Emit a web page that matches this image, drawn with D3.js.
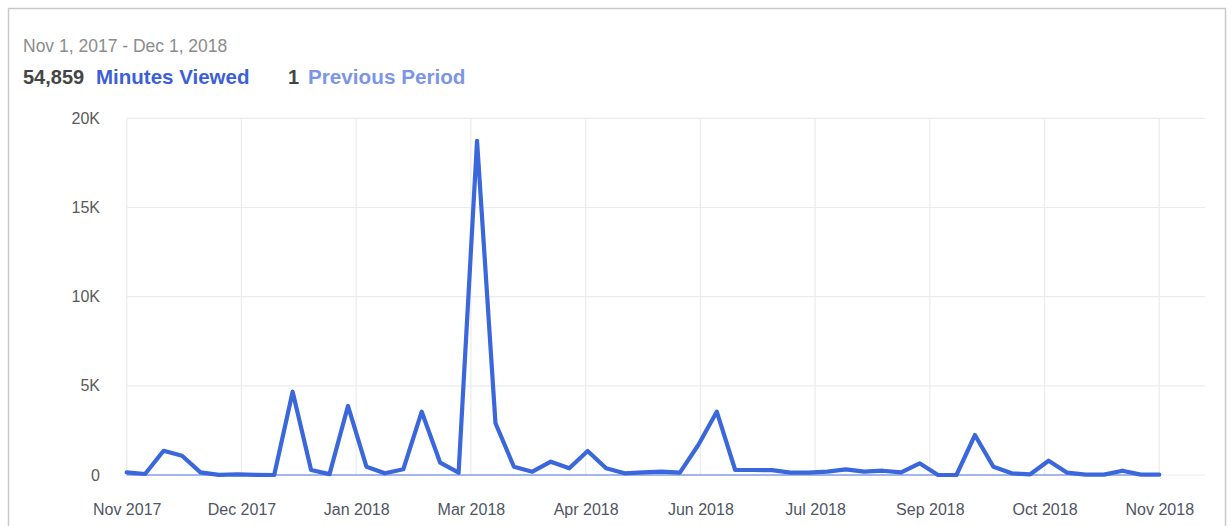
<!DOCTYPE html>
<html>
<head>
<meta charset="utf-8">
<script src="https://cdn.jsdelivr.net/npm/d3@7"></script>
<style>
  html, body { margin: 0; padding: 0; background: #fff; }
  svg { display: block; font-family: "Liberation Sans", Arial, sans-serif; }
</style>
</head>
<body>
<svg id="chart" width="1231" height="526"></svg>
<script>
// Weekly minutes viewed, Nov 1, 2017 - Dec 1, 2018
const minutesViewed = [
  150, 55, 1360, 1080, 150, 10, 30, 10, 0, 4670,
  280, 50, 3870, 465, 95, 320, 3550, 690, 130, 18740,
  2900, 465, 185, 745, 375, 1345, 375, 95, 150, 185,
  130, 1680, 3550, 280, 280, 270, 130, 130, 185, 320,
  185, 240, 150, 655, 0, 0, 2240, 465, 95, 40,
  800, 130, 20, 20, 240, 20, 20
];
// Same weeks of the previous period
const previousPeriod = [
  0, 0, 0, 0, 0, 0, 0, 0, 0, 0,
  0, 0, 0, 0, 0, 0, 0, 0, 0, 0,
  0, 0, 0, 0, 0, 0, 0, 0, 0, 0,
  0, 0, 0, 0, 0, 0, 0, 0, 0, 0,
  0, 0, 0, 1, 0, 0, 0, 0, 0, 0,
  0, 0, 0, 0, 0, 0, 0
];
const xTickLabels = [
  "Nov 2017", "Dec 2017", "Jan 2018", "Mar 2018", "Apr 2018",
  "Jun 2018", "Jul 2018", "Sep 2018", "Oct 2018", "Nov 2018"
];
const yTickValues = [0, 5000, 10000, 15000, 20000];
const dateRange = "Nov 1, 2017 - Dec 1, 2018";
const totalMinutes = 54859;
const totalPrevious = 1;

const svg = d3.select("#chart");

// Card frame
svg.append("path")
  .attr("d", "M8.5,530 V8.5 H1225.5 V530")
  .attr("fill", "none")
  .attr("stroke", "#c9c9c9")
  .attr("stroke-width", 1.5);

// Header
svg.append("text")
  .attr("x", 23).attr("y", 52)
  .attr("font-size", 17.5)
  .attr("fill", "#8c8c8c")
  .text(dateRange);

const stats = svg.append("text")
  .attr("x", 23).attr("y", 84)
  .attr("font-size", 20)
  .attr("font-weight", "bold");
stats.append("tspan").attr("fill", "#454545").text(d3.format(",")(totalMinutes));
stats.append("tspan").attr("x", 96).attr("font-size", 20.5).attr("fill", "#3b5fd8").text("Minutes Viewed");

const stats2 = svg.append("text")
  .attr("x", 288).attr("y", 84)
  .attr("font-size", 20)
  .attr("font-weight", "bold");
stats2.append("tspan").attr("fill", "#454545").text(totalPrevious);
stats2.append("tspan").attr("x", 308).attr("font-size", 20.7).attr("fill", "#7d95e6").text("Previous Period");

// Scales
const plotLeft = 126.7, plotRight = 1159.3, gridRight = 1205;
const x = d3.scaleLinear()
  .domain([0, minutesViewed.length - 1])
  .range([plotLeft, plotRight]);
const y = d3.scaleLinear()
  .domain([0, 20000])
  .range([475, 118.3]);

const xTicks = xTickLabels.map((_, i) => (minutesViewed.length - 1) * i / (xTickLabels.length - 1));

// Gridlines
const grid = svg.append("g");
grid.selectAll("line.h")
  .data(yTickValues)
  .join("line")
  .attr("class", "h")
  .attr("x1", plotLeft).attr("x2", gridRight)
  .attr("y1", d => y(d)).attr("y2", d => y(d))
  .attr("stroke", "#ececec").attr("stroke-width", 1.2);
grid.selectAll("line.v")
  .data(xTicks)
  .join("line")
  .attr("class", "v")
  .attr("x1", d => x(d)).attr("x2", d => x(d))
  .attr("y1", y(20000)).attr("y2", y(0))
  .attr("stroke", "#ececec").attr("stroke-width", 1.2);

// Y axis labels
const yAxis = d3.axisLeft(y)
  .tickValues(yTickValues)
  .tickSize(0)
  .tickPadding(0)
  .tickFormat(d => d === 0 ? "0" : d3.format("~s")(d).replace("k", "K"));
const yg = svg.append("g")
  .attr("transform", "translate(100,0)")
  .call(yAxis);
yg.select(".domain").remove();
yg.selectAll("text")
  .attr("font-size", 16)
  .attr("font-family", "Liberation Sans, Arial, sans-serif")
  .attr("fill", "#5a5a5a")
  .attr("x", 0);

// X axis labels
const xAxis = d3.axisBottom(x)
  .tickValues(xTicks)
  .tickSize(0)
  .tickPadding(0)
  .tickFormat((d, i) => xTickLabels[i]);
const xg = svg.append("g")
  .attr("transform", "translate(0,503)")
  .call(xAxis);
xg.select(".domain").remove();
xg.selectAll("text")
  .attr("font-size", 16)
  .attr("font-family", "Liberation Sans, Arial, sans-serif")
  .attr("fill", "#4f5563")
  .attr("dy", "0.72em");

// Series lines
const line = d3.line()
  .x((d, i) => x(i))
  .y(d => y(d));

svg.append("path")
  .datum(previousPeriod)
  .attr("d", line)
  .attr("fill", "none")
  .attr("stroke", "#86a0ea")
  .attr("stroke-width", 1.6);

svg.append("path")
  .datum(minutesViewed)
  .attr("d", line)
  .attr("fill", "none")
  .attr("stroke", "#3a67db")
  .attr("stroke-width", 4.2)
  .attr("stroke-linejoin", "round")
  .attr("stroke-linecap", "round");
</script>
</body>
</html>
